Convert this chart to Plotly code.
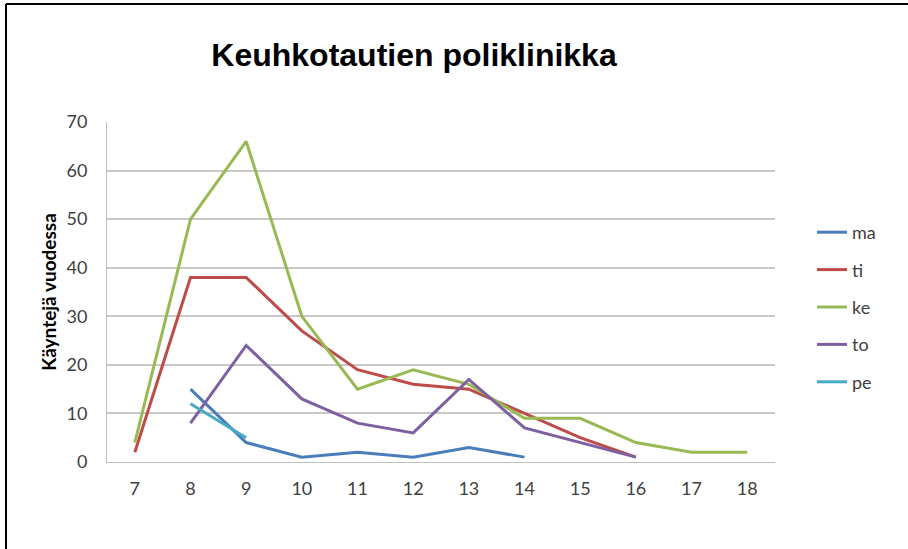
import plotly.graph_objects as go

hours = [7, 8, 9, 10, 11, 12, 13, 14, 15, 16, 17, 18]
ma = [None, 15, 4, 1, 2, 1, 3, 1, None, None, None, None]
ti = [2, 38, 38, 27, 19, 16, 15, 10, 5, 1, None, None]
ke = [4, 50, 66, 30, 15, 19, 16, 9, 9, 4, 2, 2]
to = [None, 8, 24, 13, 8, 6, 17, 7, 4, 1, None, None]
pe = [None, 12, 5, None, None, None, None, None, None, None, None, None]

series = [("ma", ma, "#4A7EBB"), ("ti", ti, "#BE4B48"), ("ke", ke, "#98B954"),
          ("to", to, "#7D60A0"), ("pe", pe, "#46AAC5")]

W, H = 908, 549
L, R, T, B = 107, 775, 122, 462

fig = go.Figure()
for i, (name, vals, col) in enumerate(series):
    fig.add_trace(go.Scatter(x=hours, y=vals, name=name, mode="lines",
                             line=dict(color=col, width=3), legendgroup=name,
                             connectgaps=False))

def px_x(p):
    return (p - L) / (R - L)

def px_y(p):
    return (B - p) / (B - T)

fig.update_layout(
    width=W, height=H,
    margin=dict(l=L, r=W - R, t=T, b=H - B),
    paper_bgcolor="white", plot_bgcolor="white",
    title=dict(text="<b>Keuhkotautien poliklinikka</b>", x=px_x(414), xref="paper",
               xanchor="center", y=1 - 55 / H, yanchor="middle",
               font=dict(family="Liberation Sans, Arial", size=32, color="black")),
    xaxis=dict(range=[6.5, 18.5], tickvals=hours, ticktext=[str(h) for h in hours],
               showgrid=False, showline=True, linecolor="#BFBFBF", linewidth=1,
               ticks="", zeroline=False, ticklabelstandoff=10,
               tickfont=dict(family="Lato, Open Sans", size=18, color="#404040")),
    yaxis=dict(range=[0, 70], dtick=10, showgrid=True, gridcolor="#C8C8C8", gridwidth=2,
               showline=True, linecolor="#BFBFBF", linewidth=1, zeroline=False, ticks="",
               ticklabelstandoff=15,
               tickfont=dict(family="Lato, Open Sans", size=18, color="#404040"),
               title=dict(text="<b>Käyntejä vuodessa</b>", standoff=4,
                          font=dict(family="Lato, Open Sans", size=19, color="black"))),
    legend=dict(x=px_x(812), y=px_y(214), xanchor="left", yanchor="top",
                tracegroupgap=11, font=dict(family="Lato, Open Sans", size=18, color="#404040"),
                bgcolor="rgba(0,0,0,0)"),
    shapes=[
        dict(type="line", xref="paper", yref="paper", x0=px_x(6), x1=px_x(908),
             y0=px_y(4), y1=px_y(4), line=dict(color="black", width=2)),
        dict(type="line", xref="paper", yref="paper", x0=px_x(6), x1=px_x(6),
             y0=px_y(4), y1=px_y(549), line=dict(color="black", width=2)),
    ],
)

fig.write_html("out.html", config={"displayModeBar": False},
               post_script="document.body.style.margin='0';")
